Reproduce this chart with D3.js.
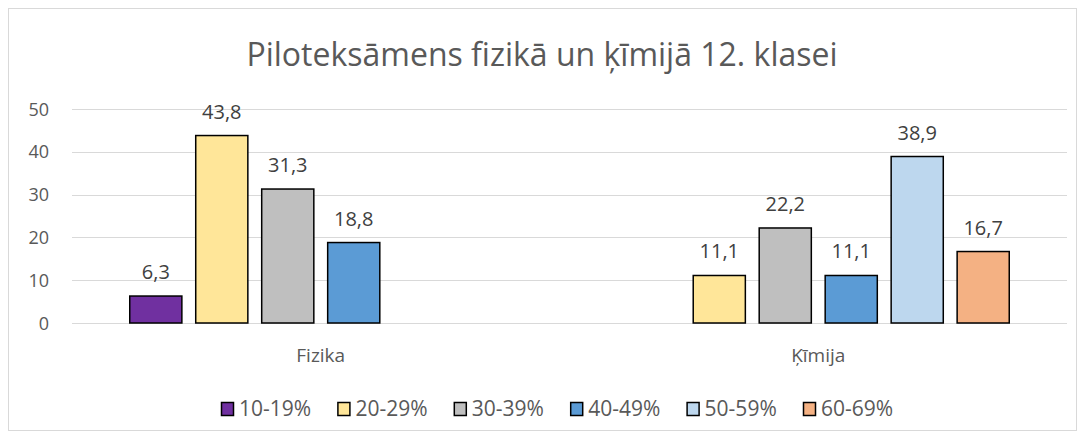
<!DOCTYPE html>
<html>
<head>
    <script src="https://cdnjs.cloudflare.com/ajax/libs/d3/7.8.5/d3.min.js"></script>
    <style>
        body { margin: 0; background: #fff; }
        text { font-family: "Open Sans", sans-serif; }
        .grid line { stroke: #d9d9d9; stroke-width: 1px; }
        .bar { stroke: #000; stroke-width: 1.5px; }
    </style>
</head>
<body>
    <div id="chart"></div>
    <script>
        const width = 1085, height = 439;

        const categories = ["Fizika", "Ķīmija"];
        const series = ["10-19%", "20-29%", "30-39%", "40-49%", "50-59%", "60-69%"];
        const colors = ["#7030a0", "#ffe699", "#bfbfbf", "#5b9bd5", "#bdd7ee", "#f4b183"];
        // null = no bar for that category
        const fizika = [6.3, 43.8, 31.3, 18.8, null, null];
        const kimija = [null, 11.1, 22.2, 11.1, 38.9, 16.7];
        const yTicks = [0, 10, 20, 30, 40, 50];

        const values = [fizika, kimija];

        const svg = d3.select("#chart").append("svg")
            .attr("width", width).attr("height", height);

        svg.append("rect")
            .attr("x", 8.5).attr("y", 8.5)
            .attr("width", 1068).attr("height", 422)
            .attr("fill", "#fff").attr("stroke", "#d9d9d9");

        svg.append("text")
            .attr("x", 542).attr("y", 66)
            .attr("text-anchor", "middle")
            .attr("font-size", 32)
            .attr("fill", "#595959")
            .text("Piloteksāmens fizikā un ķīmijā 12. klasei");

        const x0 = d3.scaleBand().domain(categories).range([72, 1067]);
        const groupW = 382;
        const x1 = d3.scaleBand().domain(series)
            .range([(x0.bandwidth() - groupW) / 2, (x0.bandwidth() + groupW) / 2])
            .paddingInner(0.21).paddingOuter(0);
        const y = d3.scaleLinear().domain([0, 50]).range([323, 109]);

        // gridlines
        svg.append("g").attr("class", "grid")
            .selectAll("line").data(yTicks).join("line")
            .attr("x1", 72).attr("x2", 1067)
            .attr("y1", d => Math.round(y(d)) + 0.5)
            .attr("y2", d => Math.round(y(d)) + 0.5);

        // y tick labels
        svg.append("g").selectAll("text").data(yTicks).join("text")
            .attr("x", 49).attr("y", d => y(d) + 6.5)
            .attr("text-anchor", "end")
            .attr("font-size", 18)
            .attr("fill", "#595959")
            .text(d => d);

        const fmt = v => d3.format(".1f")(v).replace(".", ",");

        const groups = svg.append("g").selectAll("g").data(categories).join("g")
            .attr("transform", d => `translate(${x0(d)},0)`);

        const cells = groups.selectAll("g")
            .data((c, ci) => series.map((s, si) => ({ s, si, v: values[ci][si] })).filter(d => d.v != null))
            .join("g");

        cells.append("rect")
            .attr("class", "bar")
            .attr("x", d => x1(d.s))
            .attr("y", d => y(d.v))
            .attr("width", x1.bandwidth())
            .attr("height", d => y(0) - y(d.v))
            .attr("fill", d => colors[d.si]);

        cells.append("text")
            .attr("x", d => x1(d.s) + x1.bandwidth() / 2)
            .attr("y", d => y(d.v) - 17)
            .attr("text-anchor", "middle")
            .attr("font-size", 20)
            .attr("fill", "#404040")
            .text(d => fmt(d.v));

        // category labels
        svg.append("g").selectAll("text").data(categories).join("text")
            .attr("x", d => x0(d) + x0.bandwidth() / 2)
            .attr("y", 362)
            .attr("text-anchor", "middle")
            .attr("font-size", 19)
            .attr("fill", "#595959")
            .text(d => d);

        // legend
        const legend = svg.append("g").selectAll("g").data(series).join("g")
            .attr("transform", (d, i) => `translate(${221 + i * 116.4},0)`);
        legend.append("rect")
            .attr("x", 0.5).attr("y", 402.5)
            .attr("width", 12).attr("height", 13)
            .attr("fill", (d, i) => colors[i])
            .attr("stroke", "#000").attr("stroke-width", 1.5);
        legend.append("text")
            .attr("x", 18).attr("y", 416)
            .attr("font-size", 21)
            .attr("fill", "#595959")
            .text(d => d);
    </script>
</body>
</html>
